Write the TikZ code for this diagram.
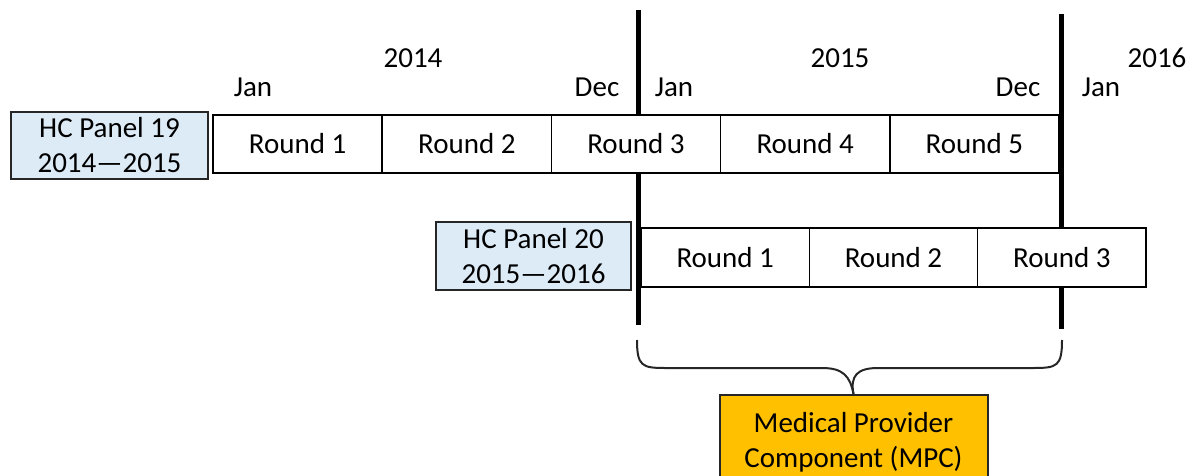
\documentclass[tikz,border=0pt]{standalone}
\usepackage{fontspec}
\setmainfont{Carlito}
\definecolor{panelblue}{HTML}{DDEBF7}
\definecolor{mpcgold}{HTML}{FFC000}
\tikzset{
  roundbox/.style={draw=black, fill=white, line width=1.6pt, rectangle, inner sep=0pt, minimum height=58pt, minimum width=169.2pt},
  roundboxb/.style={roundbox, minimum height=59pt, minimum width=168.3pt},
  panelbox/.style={draw=black!85, line width=2pt, fill=panelblue, rectangle, inner sep=0pt, align=center},
  mpcbox/.style={draw=black!85, line width=2pt, fill=mpcgold, rectangle, inner sep=0pt, align=center},
  lbl/.style={anchor=base, inner sep=0pt},
  divider/.style={line width=5pt},
  bracestyle/.style={line width=2pt, black!85}
}
\begin{document}
\begin{tikzpicture}[x=1pt, y=-1pt, font=\fontsize{29}{35}\selectfont]
\useasboundingbox (0,0) rectangle (1190,476);

% dividers (behind the boxes)
\coordinate (d1top) at (638.5,10);
\coordinate (d1bot) at (638.5,325);
\coordinate (d2top) at (1061.5,14);
\coordinate (d2bot) at (1061.5,329);
\draw[divider] (d1top) -- (d1bot);
\draw[divider] (d2top) -- (d2bot);

% month / year labels
\node[lbl] (jan14) at (253,97) {Jan};
\node[lbl] (y14) at (413,68) {2014};
\node[lbl] (dec14) at (597,97) {Dec};
\node[lbl] (jan15) at (674,97) {Jan};
\node[lbl] (y15) at (840,68) {2015};
\node[lbl] (dec15) at (1018,97) {Dec};
\node[lbl] (jan16) at (1101,97) {Jan};
\node[lbl] (y16) at (1157,68) {2016};

% panel 19
\node[panelbox, minimum width=197pt, minimum height=67pt] (p19) at (109.5,145.5) {HC Panel 19\\2014—2015};
\node[roundbox] (a1) at (297.6,144) {Round 1};
\node[roundbox] (a2) at (466.8,144) {Round 2};
\node[roundbox] (a3) at (636.0,144) {Round 3};
\node[roundbox] (a4) at (805.2,144) {Round 4};
\node[roundbox] (a5) at (974.4,144) {Round 5};

% panel 20
\node[panelbox, minimum width=195pt, minimum height=68pt] (p20) at (533.5,256) {HC Panel 20\\2015—2016};
\node[roundboxb] (b1) at (725.2,257.5) {Round 1};
\node[roundboxb] (b2) at (893.5,257.5) {Round 2};
\node[roundboxb] (b3) at (1061.8,257.5) {Round 3};

% MPC box
\node[mpcbox, minimum width=268pt, minimum height=94pt] (mpc) at (853.5,442) {Medical Provider\\Component (MPC)};

% brace
\coordinate (bl) at (637,340);
\coordinate (br) at (1062,340);
\draw[bracestyle] (bl) .. controls (637,366) and (642,368) .. (665,368) -- (822,368)
  .. controls (843,368) and (850,376) .. (mpc.north);
\draw[bracestyle] (br) .. controls (1062,366) and (1057,368) .. (1034,368) -- (878,368)
  .. controls (857,368) and (850,376) .. (mpc.north);
\end{tikzpicture}
\end{document}
